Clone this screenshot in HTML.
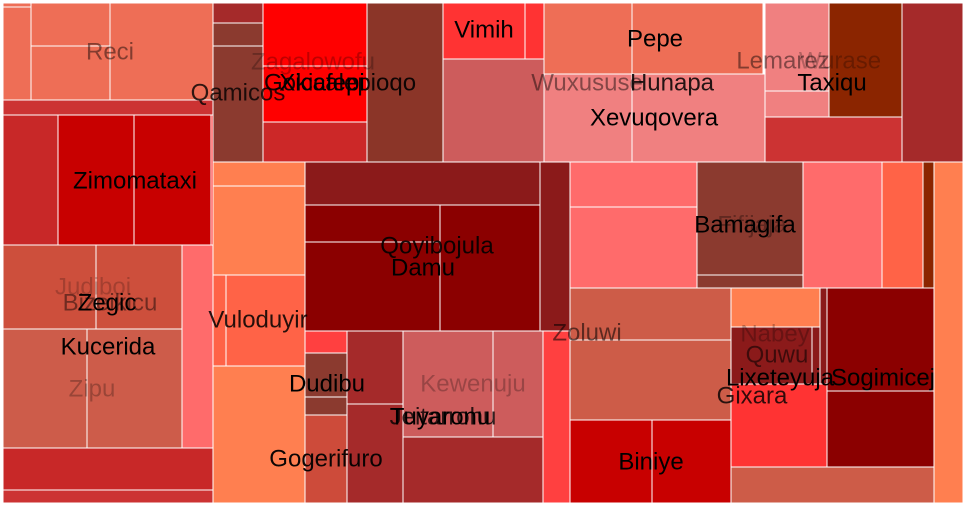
<!DOCTYPE html>
<html><head><meta charset="utf-8">
<style>
html,body{margin:0;padding:0;background:#fff;width:966px;height:507px;overflow:hidden}
svg{display:block}
text{font-family:"Liberation Sans",Arial,sans-serif;font-size:24px;text-anchor:middle;dominant-baseline:middle}
</style></head>
<body>
<svg id="chart" width="966" height="507" viewBox="0 0 966 507"></svg>
<script>
// cells: [x0,y0,x1,y1,color]
const cells = [
[3,3,31,7,"#EE6E56"],[3,7,31,100,"#EE6E56"],[31,3,110,46,"#EE6E56"],[31,46,110,100,"#EE6E56"],[110,3,213,100,"#EE6E56"],
[3,100,213,115,"#CC3333"],
[3,115,58,245,"#C82828"],[58,115,134,245,"#C80000"],[134,115,211,245,"#C80000"],[211,115,213,245,"#FF1010"],
[213,3,263,23,"#A52A2A"],[213,23,263,46,"#8B3A2F"],[213,46,263,162,"#8B3A2F"],
[263,3,367,66,"#FF0000"],[263,66,367,122,"#FF0000"],[263,122,367,162,"#CC2828"],
[367,3,443,162,"#8B3528"],
[443,3,525,59,"#FF3333"],[525,3,544,59,"#FF3333"],[443,59,544,162,"#CD5C5C"],
[544,3,632,74,"#EE6E56"],[632,3,763,74,"#EE6E56"],[544,74,632,162,"#F08080"],[632,74,765,162,"#F08080"],
[765,3,829,91,"#F08080"],[765,91,829,117,"#F08080"],[829,3,902,117,"#8B2500"],[765,117,902,162,"#CC3333"],[902,3,963,162,"#A52A2A"],
[213,162,305,186,"#FF7F50"],[213,186,305,275,"#FF7F50"],[213,275,226,366,"#FF6347"],[226,275,305,366,"#FF6347"],[213,366,305,503,"#FF7F50"],
[305,162,540,205,"#8B1A1A"],[305,205,440,242,"#8B0000"],[305,242,440,331,"#8B0000"],[440,205,540,331,"#8B0000"],[540,162,570,331,"#8B1A1A"],
[305,331,347,353,"#FF4040"],[305,353,347,397,"#8B3A2F"],[305,397,347,415,"#8B3A2F"],[305,415,347,503,"#CD4B3A"],
[347,331,403,404,"#A52A2A"],[347,404,403,503,"#A52A2A"],
[403,331,493,437,"#CD5C5C"],[493,331,543,437,"#CD5C5C"],[403,437,543,503,"#A52A2A"],[543,331,570,503,"#FF4040"],
[3,245,96,329,"#CD4F3C"],[96,245,182,329,"#CD4F3C"],[3,329,87,448,"#CD5C4A"],[87,329,182,448,"#CD5C4A"],[182,245,213,448,"#FF6B6B"],
[3,448,213,490,"#C82828"],[3,490,213,503,"#CC3333"],
[570,162,697,207,"#FF6B6B"],[570,207,697,288,"#FF6B6B"],[697,162,803,275,"#8B3A2F"],[697,275,803,288,"#8B3A2F"],
[803,162,882,288,"#FF6B6B"],[882,162,923,288,"#FF6347"],[923,162,934,288,"#8B2500"],[934,162,963,503,"#FF7F50"],
[570,288,731,340,"#CD5C48"],[570,340,731,420,"#CD5C48"],[570,420,652,503,"#C80000"],[652,420,731,503,"#C80000"],
[731,288,820,327,"#FF7F50"],[820,288,827,384,"#8B1A1A"],[731,327,812,384,"#8B1A1A"],[812,327,820,384,"#8B1A1A"],[731,384,827,467,"#FF3333"],
[827,288,934,391,"#8B0000"],[827,391,934,467,"#8B0000"],[731,467,934,503,"#CD5C48"]
];
// labels: [text,x,y,opacity]
const labels = [
["Reci",110,52,0.45],["Zimomataxi",135,181,1],["Qamicos",238,93,0.8],["Zagalowofu",313,62,0.25],
["Gokicalepioqo",340,83,0.9],["Xicafepi",322,83,1],["Vimih",484,30,1],["Pepe",655,39,1],
["Wuxususe",587,83,0.45],["Hunapa",672,83,0.85],["Xevuqovera",654,118,1],["Lemarez",783,61,0.45],
["Wurase",840,61,0.25],["Taxiqu",832,83,1],["Qoyibojula",437,246,0.9],["Damu",423,268,1],
["Vuloduyir",258,320,0.85],["Gogerifuro",326,459,0.95],["Dudibu",327,384,1],["Kewenuju",473,384,0.25],
["Tuyaronu",440,417,1],["Jeitarrohu",443,417,0.8],["Judiboi",93,287,0.2],["Bizeikicu",110,303,0.45],
["Zegic",107,303,1],["Kucerida",108,347,1],["Zipu",92,389,0.25],["Bamagifa",745,225,1],["Fifijaja",752,225,0.3],
["Zoluwi",587,333,0.55],["Biniye",651,462,1],["Nabey",775,334,0.25],["Quwu",777,355,0.55],
["Lixeteyuja",780,378,1],["Gixara",752,396,0.8],["Sogimicej",883,378,1]
];
const svg = document.getElementById('chart');
const NS = "http://www.w3.org/2000/svg";
cells.forEach((c,i)=>{
  const r = document.createElementNS(NS,'rect');
  
  
  r.setAttribute('x',c[0]);r.setAttribute('y',c[1]);
  r.setAttribute('width',c[2]-c[0]);r.setAttribute('height',c[3]-c[1]);
  r.setAttribute('fill',c[4]);r.setAttribute('stroke','#fff');r.setAttribute('stroke-width','1');
  svg.appendChild(r);
});
labels.forEach(l=>{
  const t = document.createElementNS(NS,'text');
  
  
  t.setAttribute('x',l[1]);t.setAttribute('y',l[2]+1);
  t.setAttribute('fill','#000');t.setAttribute('fill-opacity',l[3]);
  t.textContent = l[0];
  svg.appendChild(t);
});
</script>
</body></html>
